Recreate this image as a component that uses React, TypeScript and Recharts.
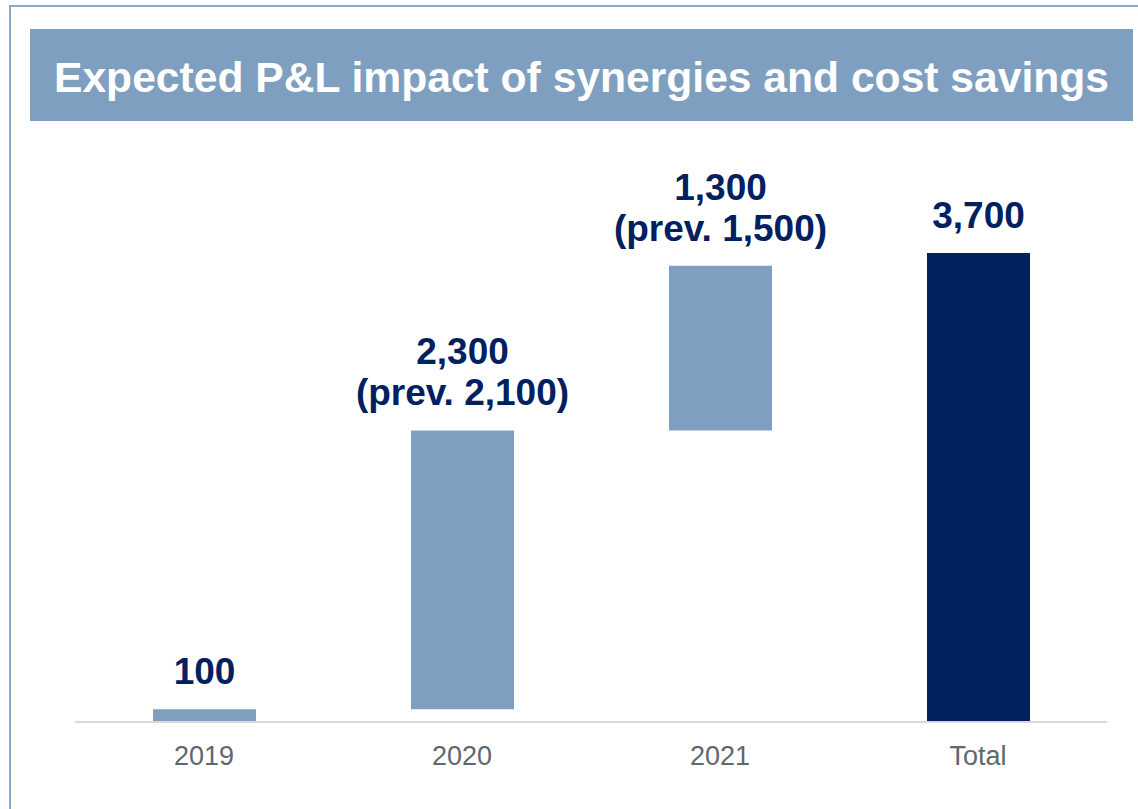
import { BarChart, Bar, XAxis, YAxis, Cell, LabelList } from "recharts";

const categories = ["2019", "2020", "2021", "Total"];
// bar heights as drawn in the picture (the 2020 bar is drawn at ~2,200)
const barValues = [100, 2200, 1300, 3700];
const isTotal = [false, false, false, true];
const labelLines = [
  ["100"],
  ["2,300", "(prev. 2,100)"],
  ["1,300", "(prev. 1,500)"],
  ["3,700"],
];

const FONT = '"Liberation Sans", Arial, sans-serif';
const STEP = "#7f9fc0";
const TOTAL = "#002060";

let running = 0;
const data = categories.map((name, i) => {
  const base = isTotal[i] ? 0 : running;
  if (!isTotal[i]) running += barValues[i];
  return { name, base, value: barValues[i], lines: labelLines[i] };
});

const renderLabel = (props: any) => {
  const { x, y, width, index } = props;
  const lines = labelLines[index] || [];
  const cx = Number(x) + Number(width) / 2;
  const last = Number(y) - 25;
  return (
    <text
      key={"lbl" + index}
      textAnchor="middle"
      fill={TOTAL}
      fontFamily={FONT}
      fontWeight="bold"
      fontSize={37}
    >
      {lines.map((l, j) => (
        <tspan key={j} x={cx} y={last - (lines.length - 1 - j) * 41}>
          {l}
        </tspan>
      ))}
    </text>
  );
};

export default function App() {
  return (
    <div
      style={{
        position: "absolute",
        left: 0,
        top: 0,
        width: 1138,
        height: 809,
        background: "#fff",
        overflow: "hidden",
        fontFamily: FONT,
      }}
    >
      <div
        style={{
          position: "absolute",
          left: 9,
          top: 5,
          width: 1160,
          height: 840,
          borderTop: "2px solid #8ca8c7",
          borderLeft: "2px solid #8ca8c7",
        }}
      />
      <div
        style={{
          position: "absolute",
          left: 30,
          top: 29,
          width: 1103,
          height: 92,
          background: STEP,
          color: "#fff",
          fontWeight: "bold",
          fontSize: 42.6,
          display: "flex",
          alignItems: "center",
          justifyContent: "center",
          paddingTop: 5,
          boxSizing: "border-box",
          whiteSpace: "nowrap",
        }}
      >
        Expected P&amp;L impact of synergies and cost savings
      </div>
      <div style={{ position: "absolute", left: 0, top: 0 }}>
        <BarChart
          width={1138}
          height={809}
          data={data}
          margin={{ top: 253, right: 31, left: 75, bottom: 47 }}
        >
          <XAxis
            dataKey="name"
            height={40}
            axisLine={{ stroke: "#d9d9d9", strokeWidth: 2 }}
            tickLine={false}
            tickSize={0}
            tickMargin={24}
            tick={{ fontSize: 27, fill: "#5f676e", fontFamily: FONT }}
            interval={0}
          />
          <YAxis hide domain={[0, 3700]} />
          <Bar dataKey="base" stackId="w" fill="transparent" barSize={103} isAnimationActive={false} />
          <Bar dataKey="value" stackId="w" barSize={103} isAnimationActive={false}>
            {data.map((d, i) => (
              <Cell key={d.name} fill={isTotal[i] ? TOTAL : STEP} />
            ))}
            <LabelList dataKey="value" content={renderLabel} />
          </Bar>
        </BarChart>
      </div>
    </div>
  );
}
